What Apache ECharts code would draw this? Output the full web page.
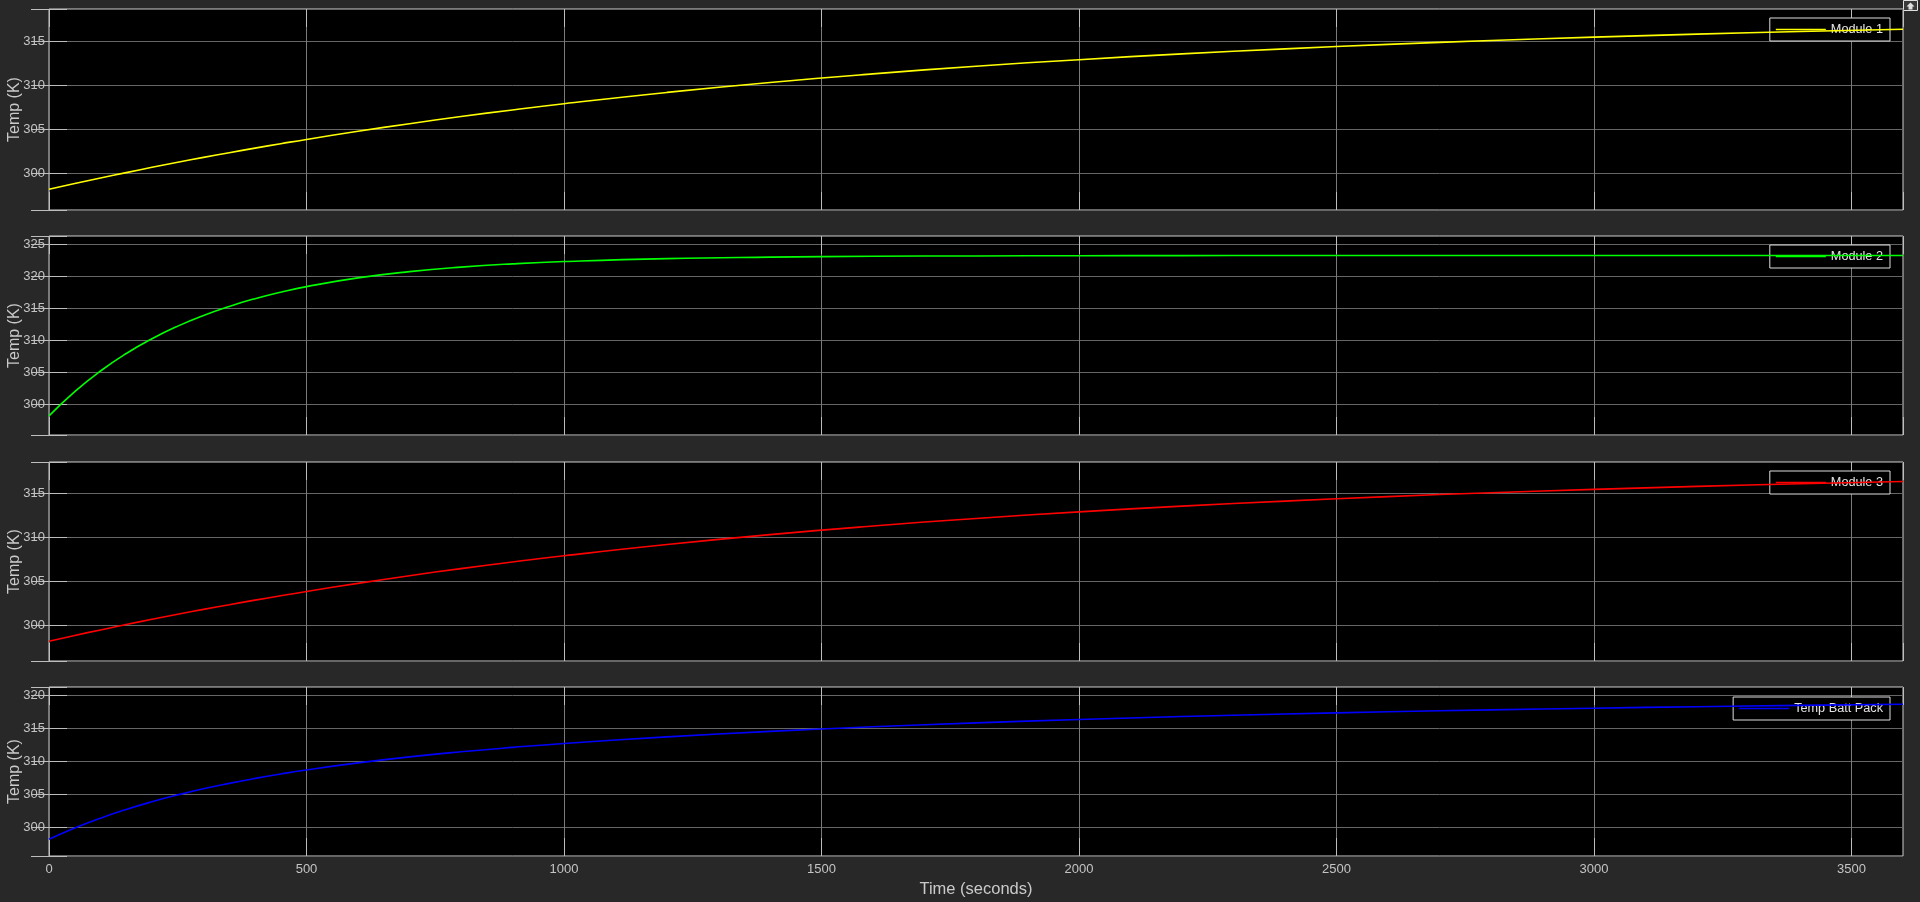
<!DOCTYPE html>
<html>
<head>
<meta charset="utf-8">
<script src="https://cdn.jsdelivr.net/npm/echarts@6/dist/echarts.min.js"></script>
<style>
html,body{margin:0;padding:0;background:#282828;}
#chart{width:1920px;height:902px;}
</style>
</head>
<body>
<div id="chart"></div>
<script>
// Time samples (seconds)
const timeSec = [0,50,100,150,200,250,300,350,400,450,500,600,700,800,900,1000,1200,1400,1600,1800,2000,2200,2400,2600,2800,3000,3200,3400,3600];
// Module 1 temperature (K)
const module1 = [298.15,298.81,299.44,300.05,300.65,301.22,301.78,302.31,302.83,303.33,303.82,304.74,305.61,306.42,307.17,307.88,309.16,310.29,311.27,312.13,312.88,313.54,314.11,314.62,315.06,315.44,315.78,316.08,316.34];
// Module 2 temperature (K)
const module2 = [298.15,301.95,305.17,307.90,310.22,312.19,313.86,315.28,316.49,317.51,318.38,319.74,320.72,321.43,321.94,322.30,322.76,322.99,323.12,323.18,323.21,323.23,323.24,323.25,323.25,323.25,323.25,323.25,323.25];
// Module 3 temperature (K)
const module3 = [298.15,298.81,299.44,300.05,300.65,301.22,301.78,302.31,302.83,303.33,303.82,304.74,305.61,306.42,307.17,307.88,309.16,310.29,311.27,312.13,312.88,313.54,314.11,314.62,315.06,315.44,315.78,316.08,316.34];
// Battery pack temperature (K)
const battPack = [298.15,299.86,301.35,302.67,303.84,304.88,305.81,306.63,307.38,308.06,308.67,309.74,310.65,311.42,312.09,312.69,313.69,314.52,315.22,315.81,316.32,316.77,317.15,317.50,317.79,318.04,318.27,318.47,318.64];

const seriesNames = ['Module 1','Module 2','Module 3','Temp Batt Pack'];
const seriesColors = ['#ffff00','#00ff00','#ff0000','#0000ff'];
const seriesValues = [module1, module2, module3, battPack];
const yRanges = [[295.8,318.64],[295.15,326.3],[295.9,318.56],[295.6,321.26]];
const yTickStep = 5;
const xRange = [0,3600];
const xTickStep = 500;
const yTitle = 'Temp (K)';
const xTitle = 'Time (seconds)';

const FONT = "'Liberation Sans', Arial, sans-serif";
const gridBoxes = [
  {top:9, height:201},
  {top:236, height:199},
  {top:462, height:199},
  {top:687, height:169}
];
const legendTops = [18,245,471,697];

const isMult = (v, s) => Math.abs(v/s - Math.round(v/s)) < 1e-6;

const grid = [], xAxis = [], yAxis = [], series = [], legend = [];
gridBoxes.forEach((g, i) => {
  grid.push({left:49, right:17, top:g.top, height:g.height, show:true,
    backgroundColor:'#000', borderColor:'#cfcfcf', borderWidth:1,
    containLabel:false, outerBoundsMode:'none'});
  const last = i === gridBoxes.length - 1;
  // bottom x axis
  xAxis.push({type:'value', gridIndex:i, min:xRange[0], max:xRange[1], interval:xTickStep,
    position:'bottom',
    axisLine:{show:false},
    axisTick:{show:true, inside:true, length:18, lineStyle:{color:'#bdbdbd'}},
    splitLine:{show:true, lineStyle:{color:'#7a7a7a', width:1}},
    axisLabel:{show:last, color:'#c4c4c4', fontSize:13, fontFamily:FONT, margin:7,
      showMaxLabel:false, formatter:v => isMult(v, xTickStep) ? String(v) : ''},
    name: last ? xTitle : '', nameLocation:'middle', nameGap:25, nameMoveOverlap:false,
    nameTextStyle:{color:'#cacaca', fontSize:16.5, fontFamily:FONT}
  });
  // top x axis (tick marks only)
  xAxis.push({type:'value', gridIndex:i, min:xRange[0], max:xRange[1], interval:xTickStep,
    position:'top',
    axisLine:{show:false}, axisLabel:{show:false}, splitLine:{show:false},
    axisTick:{show:true, inside:true, length:18, lineStyle:{color:'#bdbdbd'}}
  });
  const r = yRanges[i];
  yAxis.push({type:'value', gridIndex:i, min:r[0], max:r[1], splitNumber:5,
    position:'left',
    axisLine:{show:false},
    axisTick:{show:true, inside:true, length:18, lineStyle:{color:'#bdbdbd'}},
    splitLine:{show:true, lineStyle:{color:'#666666', width:1}},
    axisLabel:{color:'#c4c4c4', fontSize:13, fontFamily:FONT, margin:4,
      showMinLabel:true, showMaxLabel:true,
      formatter:v => isMult(v, yTickStep) ? String(Math.round(v)) : ''},
    name: yTitle, nameLocation:'middle', nameGap:26, nameMoveOverlap:false,
    nameTextStyle:{color:'#cacaca', fontSize:16, fontFamily:FONT}
  });
  yAxis.push({type:'value', gridIndex:i, min:r[0], max:r[1], splitNumber:5,
    position:'right',
    axisLine:{show:false}, axisLabel:{show:false}, splitLine:{show:false},
    axisTick:{show:true, inside:true, length:18, lineStyle:{color:'#bdbdbd'}}
  });
  series.push({
    type:'line', name:seriesNames[i], xAxisIndex:2*i, yAxisIndex:2*i,
    data: timeSec.map((t, k) => [t, seriesValues[i][k]]),
    smooth:true, symbol:'none', showSymbol:false, animation:false,
    lineStyle:{color:seriesColors[i], width:1.6}, itemStyle:{color:seriesColors[i]}, z:5
  });
  legend.push({
    data:[{name:seriesNames[i], icon:'rect'}], right:30, top:legendTops[i], orient:'horizontal',
    backgroundColor:'#000', borderColor:'#dedede', borderWidth:1, borderRadius:0,
    padding:[4,7,4,6], itemWidth:50, itemHeight:1.6, itemGap:5, selectedMode:false,
    textStyle:{color:'#e4e4e4', fontSize:12.7, fontFamily:FONT, lineHeight:15}
  });
});

const chart = echarts.init(document.getElementById('chart'), null, {renderer:'canvas'});
chart.setOption({
  backgroundColor:'#282828',
  animation:false,
  grid, xAxis, yAxis, series, legend,
  graphic:[{
    type:'group', right:2, top:0,
    children:[
      {type:'rect', shape:{x:0,y:0,width:14,height:10}, style:{fill:'#3a3a3a', stroke:'#e0e0e0', lineWidth:1}},
      {type:'polygon', shape:{points:[[7,2],[11,6],[9,6],[9,9],[5,9],[5,6],[3,6]]}, style:{fill:'#e0e0e0'}}
    ]
  }]
});
</script>
</body>
</html>
